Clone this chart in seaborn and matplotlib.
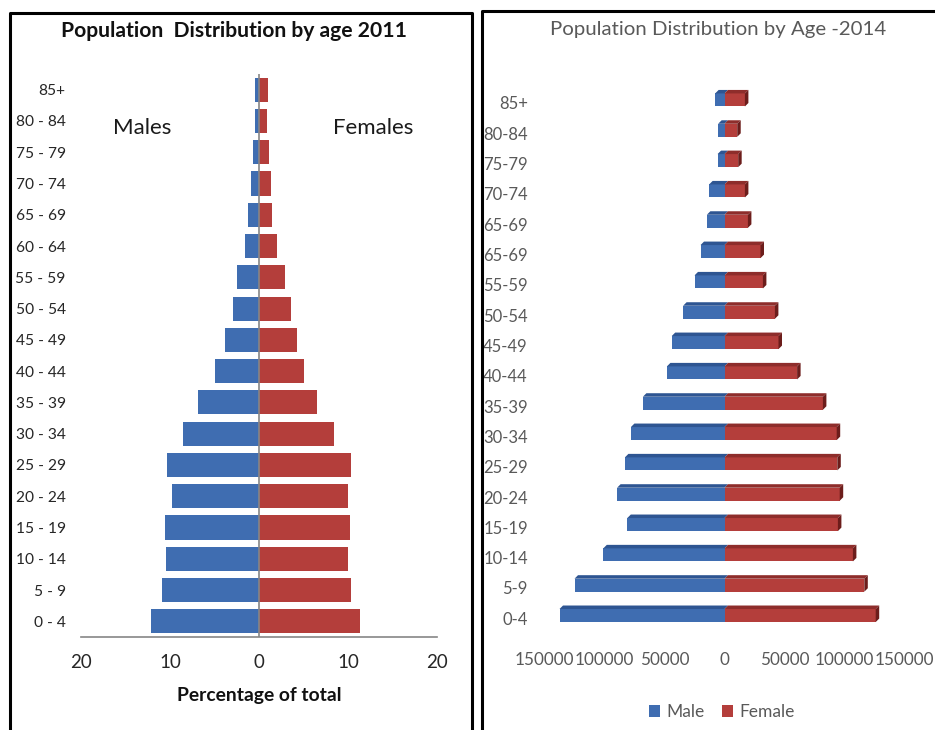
import pandas as pd
import matplotlib
matplotlib.use("Agg")
import matplotlib.pyplot as plt
from matplotlib.lines import Line2D
from matplotlib.patches import Polygon
from matplotlib.transforms import ScaledTranslation
import seaborn as sns

# 2011: share of total population (%), youngest band first
ages_2011 = ["0 - 4", "5 - 9", "10 - 14", "15 - 19", "20 - 24", "25 - 29",
             "30 - 34", "35 - 39", "40 - 44", "45 - 49", "50 - 54", "55 - 59",
             "60 - 64", "65 - 69", "70 - 74", "75 - 79", "80 - 84", "85+"]
males_2011 = [12.1, 10.9, 10.5, 10.6, 9.8, 10.3, 8.5, 6.9, 4.9, 3.8, 2.9, 2.5,
              1.6, 1.2, 0.85, 0.65, 0.4, 0.5]
females_2011 = [11.4, 10.3, 10.0, 10.2, 10.0, 10.3, 8.4, 6.5, 5.0, 4.3, 3.6, 2.9,
                2.0, 1.5, 1.3, 1.1, 0.87, 0.97]
ticks_2011 = [-20, -10, 0, 10, 20]

# 2014: head counts, youngest band first
ages_2014 = ["0-4", "5-9", "10-14", "15-19", "20-24", "25-29", "30-34", "35-39",
             "40-44", "45-49", "50-54", "55-59", "65-69", "65-69", "70-74",
             "75-79", "80-84", "85+"]
male_2014 = [137500, 125000, 101000, 81000, 89500, 83000, 78000, 68000, 48000,
             44000, 34500, 25000, 20000, 14700, 12800, 5800, 5300, 7800]
female_2014 = [126000, 116500, 107000, 94500, 96000, 94000, 93500, 82000, 60500,
               45000, 42000, 32000, 30000, 19500, 17000, 11400, 10600, 17000]
ticks_2014 = [-150000, -100000, -50000, 0, 50000, 100000, 150000]

BLUE = "#3F6DB1"
RED = "#B43E3B"
BLUE_TOP = "#2E5592"
RED_TOP = "#8E2D2B"
RED_SIDE = "#6C1D1B"
GREY_TXT = "#595959"
AXIS_GREY = "#868686"

sns.set_theme(style="white")
plt.rcParams["font.family"] = ["Lato", "DejaVu Sans"]

W, H = 935, 730
fig = plt.figure(figsize=(W / 100, H / 100), dpi=100)


def fx(px):
    return px / W


def fy(py):
    return 1 - py / H


# ---------------- 2011 pyramid ----------------
ax1 = fig.add_axes([fx(81), fy(637), fx(437) - fx(81), fy(74) - fy(637)])
n1 = len(ages_2011)
df1 = pd.DataFrame({
    "age": ages_2011 * 2,
    "sex": ["Males"] * n1 + ["Females"] * n1,
    "pct": [-v for v in males_2011] + list(females_2011),
})
sns.barplot(data=df1, x="pct", y="age", hue="sex", order=ages_2011[::-1],
            hue_order=["Males", "Females"], palette=[BLUE, RED], dodge=False,
            width=0.77, orient="h", legend=False, saturation=1, errorbar=None,
            linewidth=0, ax=ax1)
ax1.set_xlim(-20, 20)
ax1.set_xticks(ticks_2011)
ax1.set_xticklabels([str(abs(t)) for t in ticks_2011])
ax1.set_xlabel("")
ax1.set_ylabel("")
ax1.axvline(0, color=AXIS_GREY, lw=1.2, zorder=3)
for s in ["top", "right", "left"]:
    ax1.spines[s].set_visible(False)
ax1.spines["bottom"].set_color(AXIS_GREY)
ax1.spines["bottom"].set_linewidth(1.2)
ax1.tick_params(axis="x", length=0, pad=12, labelsize=13.5, labelcolor="#262626")
ax1.tick_params(axis="y", length=0, pad=11, labelsize=11.2, labelcolor="#262626")

fig.text(fx(234), fy(37), "Population  Distribution by age 2011", ha="center",
         va="baseline", fontsize=15.2, fontweight="bold", color="#111111")
fig.text(fx(142), fy(134), "Males", ha="center", va="baseline", fontsize=16,
         color="#1a1a1a")
fig.text(fx(373), fy(134), "Females", ha="center", va="baseline", fontsize=16,
         color="#1a1a1a")
fig.text(fx(259), fy(701), "Percentage of total", ha="center", va="baseline",
         fontsize=13.9, fontweight="bold", color="#111111")

# ---------------- 2014 pyramid ----------------
ax2 = fig.add_axes([fx(544.5), fy(630.7), fx(904.5) - fx(544.5), fy(84.8) - fy(630.7)])
n2 = len(ages_2014)
bands = list(range(n2))
df2 = pd.DataFrame({
    "band": bands * 2,
    "sex": ["Male"] * n2 + ["Female"] * n2,
    "count": [-v for v in male_2014] + list(female_2014),
})
sns.barplot(data=df2, x="count", y="band", hue="sex", order=bands[::-1],
            hue_order=["Male", "Female"], palette=[BLUE, RED], dodge=False,
            width=0.43, orient="h", saturation=1, errorbar=None, linewidth=0,
            ax=ax2)
ax2.set_xlim(-150000, 150000)
ax2.set_xticks(ticks_2014)
ax2.set_xticklabels([str(abs(t)) for t in ticks_2014])
ax2.set_yticks(range(n2))
ax2.set_yticklabels(ages_2014[::-1])
ax2.set_xlabel("")
ax2.set_ylabel("")
for s in ax2.spines.values():
    s.set_visible(False)
ax2.tick_params(axis="x", length=0, pad=15, labelsize=12.3, labelcolor=GREY_TXT)
ax2.tick_params(axis="y", length=0, pad=12, labelsize=12, labelcolor=GREY_TXT)
shift = ScaledTranslation(0, -2 / 72, fig.dpi_scale_trans)
for lab in ax2.get_yticklabels():
    lab.set_transform(lab.get_transform() + shift)

# depth faces for the bars (top face and right end)
dx = 3.5 * 300000 / 360
dy = 3.5 / 30.3
for bar in list(ax2.patches):
    bb = bar.get_bbox()
    xl, xr = min(bb.x0, bb.x1), max(bb.x0, bb.x1)
    yt, yb = min(bb.y0, bb.y1), max(bb.y0, bb.y1)
    is_male = xl < 0
    top = Polygon([(xl, yt), (xr, yt), (xr + dx, yt - dy), (xl + dx, yt - dy)],
                  closed=True, facecolor=BLUE_TOP if is_male else RED_TOP,
                  edgecolor="none", zorder=bar.get_zorder())
    ax2.add_patch(top)
    if not is_male:
        side = Polygon([(xr, yt), (xr + dx, yt - dy), (xr + dx, yb - dy), (xr, yb)],
                       closed=True, facecolor=RED_SIDE, edgecolor="none",
                       zorder=bar.get_zorder())
        ax2.add_patch(side)

sns.move_legend(ax2, "center", bbox_to_anchor=(fx(722), fy(712)),
                bbox_transform=fig.transFigure, ncol=2, frameon=False, title=None,
                handlelength=0.65, handleheight=0.65, handletextpad=0.35,
                columnspacing=1.0, fontsize=12.5, labelcolor=GREY_TXT)

fig.text(fx(718), fy(35.5), "Population Distribution by Age -2014", ha="center",
         va="baseline", fontsize=14.7, color=GREY_TXT)

# panel frames
lw = 2.2
frame_kw = dict(transform=fig.transFigure, color="black", lw=lw,
                solid_capstyle="projecting", zorder=10)
fig.add_artist(Line2D([fx(9.5), fx(9.5), fx(471.5), fx(471.5)],
                      [fy(740), fy(12.5), fy(12.5), fy(740)], **frame_kw))
fig.add_artist(Line2D([fx(481.5), fx(481.5), fx(945)],
                      [fy(740), fy(10.5), fy(10.5)], **frame_kw))

fig.savefig("out.png", dpi=100)
